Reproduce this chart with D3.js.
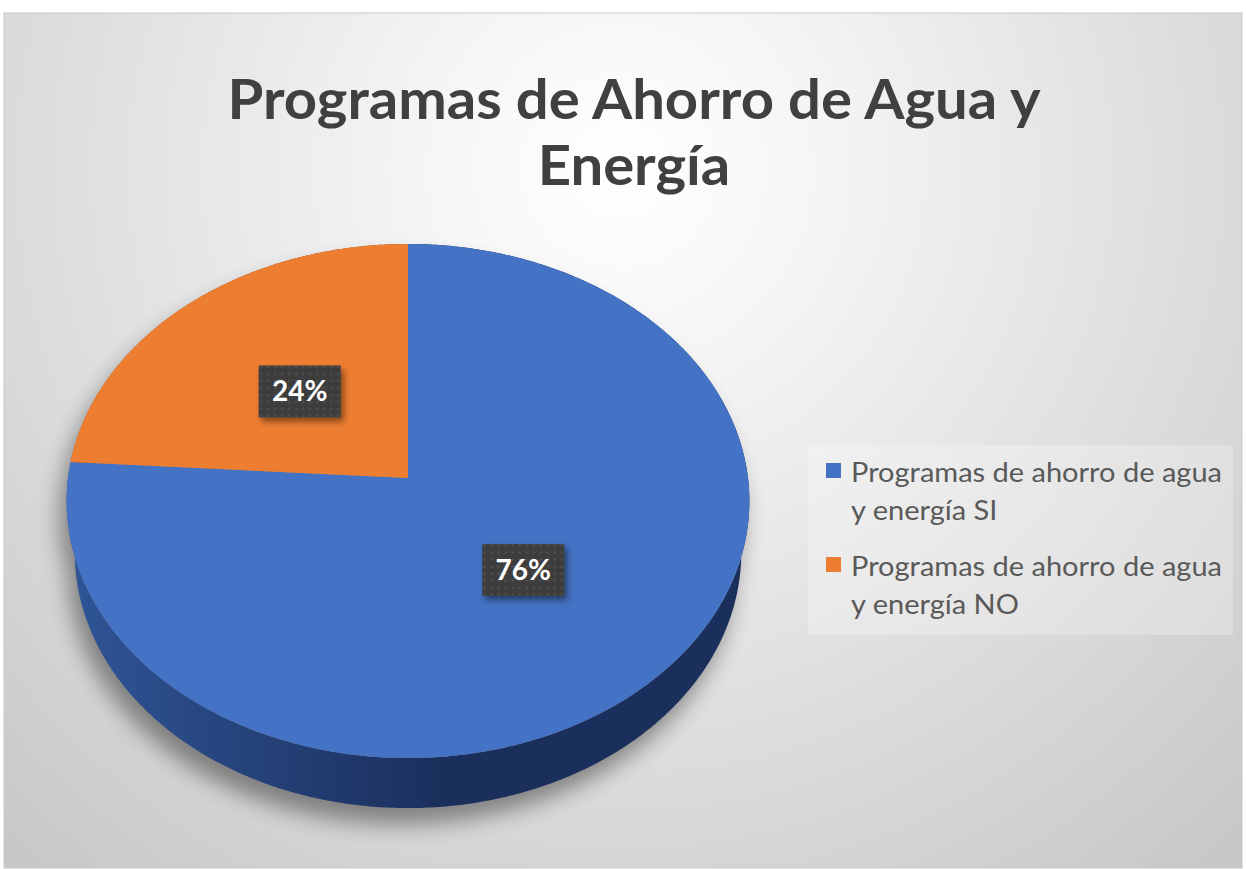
<!DOCTYPE html>
<html>
<head>
<meta charset="utf-8">
<script src="https://cdn.jsdelivr.net/npm/d3@7"></script>
<style>
  body { margin: 0; background: #fff; }
  text { font-family: Lato, "Noto Sans", sans-serif; }
</style>
</head>
<body>
<script>
const titleLines = ["Programas de Ahorro de Agua y", "Energía"];
const categories = ["Programas de ahorro de agua y energía SI", "Programas de ahorro de agua y energía NO"];
const legendLines = [["Programas de ahorro de agua", "y energía SI"], ["Programas de ahorro de agua", "y energía NO"]];
const values = [76, 24];
const colors = ["#4472c4", "#ed7d31"];
const sideColors = [["#2f5597", "#1b2f5c"], ["#b45d1e", "#8a4514"]];

const W = 1246, H = 869;

const svg = d3.select("body").append("svg")
    .attr("width", W)
    .attr("height", H);

const defs = svg.append("defs");

// background
const bg = defs.append("radialGradient")
    .attr("id", "bg")
    .attr("gradientUnits", "userSpaceOnUse")
    .attr("cx", 620).attr("cy", 170).attr("r", 1000);
bg.append("stop").attr("offset", 0).attr("stop-color", "#ffffff");
bg.append("stop").attr("offset", 0.2).attr("stop-color", "#f5f5f5");
bg.append("stop").attr("offset", 1).attr("stop-color", "#c2c2c2");

svg.append("rect")
    .attr("x", 4).attr("y", 13)
    .attr("width", 1238).attr("height", 855)
    .attr("fill", "url(#bg)")
    .attr("stroke", "#c8c8c8");

// title
const title = svg.append("g").attr("fill", "#404040").attr("font-weight", "bold");
const titleText = title.selectAll("text")
    .data(titleLines)
    .join("text")
    .attr("x", 634)
    .attr("y", (d, i) => 119 + i * 66)
    .attr("text-anchor", "middle")
    .attr("font-size", 56)
    .text(d => d);
const tScale = 813 / titleText.nodes()[0].getComputedTextLength();
titleText.each(function () {
    d3.select(this)
      .attr("textLength", this.getComputedTextLength() * tScale)
      .attr("lengthAdjust", "spacingAndGlyphs");
});

// 3d pie projection
const cx = 408, cy = 478;
const f = 2511, R = 0.1354, depthH = 0.0322;
const sinP = 0.75, cosP = Math.sqrt(1 - sinP * sinP);

function project(a, r, y) {
    const X = R * r * Math.sin(a), Z = -R * r * Math.cos(a);
    const dz = 1 - Z * cosP - y * sinP;
    return [cx + f * X / dz, cy + f * (Z * sinP - y * cosP) / dz];
}

function arcPts(a0, a1, y) {
    const n = Math.max(2, Math.ceil(Math.abs(a1 - a0) / 0.01));
    return d3.range(n + 1).map(i => project(a0 + (a1 - a0) * i / n, 1, y));
}

const line = d3.line();
const pie = d3.pie().sort(null).value(d => d);
const arcs = pie(values);

// shadow
const shadowF = defs.append("filter").attr("id", "blur")
    .attr("x", -0.2).attr("y", -0.2).attr("width", 1.4).attr("height", 1.4);
shadowF.append("feGaussianBlur").attr("stdDeviation", 11);

const shadow = svg.append("g")
    .attr("filter", "url(#blur)")
    .attr("transform", "translate(-7,16)")
    .attr("fill", "#000")
    .attr("opacity", 0.4);
shadow.append("path").attr("d", line(arcPts(0, 2 * Math.PI, -depthH)) + "Z");
shadow.append("path").attr("d", line(arcPts(0, 2 * Math.PI, 0)) + "Z");

// sides
const x0 = project(-Math.PI / 2, 1, 0)[0], x1 = project(Math.PI / 2, 1, 0)[0];
sideColors.forEach((c, i) => {
    const g = defs.append("linearGradient")
        .attr("id", "side" + i)
        .attr("gradientUnits", "userSpaceOnUse")
        .attr("x1", x0).attr("x2", x1).attr("y1", 0).attr("y2", 0);
    g.append("stop").attr("offset", 0).attr("stop-color", c[0]);
    g.append("stop").attr("offset", 0.55).attr("stop-color", c[1]);
    g.append("stop").attr("offset", 1).attr("stop-color", c[1]);
});

svg.append("g").selectAll("path")
    .data(arcs)
    .join("path")
    .attr("fill", (d, i) => `url(#side${i})`)
    .attr("d", d => line(arcPts(d.startAngle, d.endAngle, 0)
        .concat(arcPts(d.endAngle, d.startAngle, -depthH))) + "Z");

// top faces
svg.append("g").selectAll("path")
    .data(arcs)
    .join("path")
    .attr("fill", (d, i) => colors[i])
    .attr("d", d => line([[cx, cy]].concat(arcPts(d.startAngle, d.endAngle, 0))) + "Z");

// data labels
const dots = defs.append("pattern")
    .attr("id", "dots")
    .attr("patternUnits", "userSpaceOnUse")
    .attr("width", 7).attr("height", 7);
dots.append("rect").attr("width", 7).attr("height", 7).attr("fill", "#3d3d3d");
dots.append("circle").attr("cx", 3.5).attr("cy", 3.5).attr("r", 0.9).attr("fill", "#5e5e5e");

const lblShadow = defs.append("filter").attr("id", "lblShadow")
    .attr("x", -0.3).attr("y", -0.3).attr("width", 1.6).attr("height", 1.6);
lblShadow.append("feDropShadow")
    .attr("dx", 3).attr("dy", 4).attr("stdDeviation", 3)
    .attr("flood-color", "#000").attr("flood-opacity", 0.45);

const total = d3.sum(values);
const lbl = svg.append("g").selectAll("g")
    .data(arcs)
    .join("g")
    .attr("transform", d => {
        const p = project((d.startAngle + d.endAngle) / 2, 0.48, 0);
        return `translate(${p[0]},${p[1]})`;
    });
lbl.append("rect")
    .attr("x", -41).attr("y", -26)
    .attr("width", 82).attr("height", 52)
    .attr("fill", "url(#dots)")
    .attr("filter", "url(#lblShadow)");
lbl.append("text")
    .attr("text-anchor", "middle")
    .attr("dy", 10)
    .attr("fill", "#fff")
    .attr("font-weight", "bold")
    .attr("font-size", 28)
    .text(d => Math.round(d.value / total * 100) + "%");

// legend
const legend = svg.append("g");
legend.append("rect")
    .attr("x", 808).attr("y", 445)
    .attr("width", 425).attr("height", 190)
    .attr("fill", "#fff")
    .attr("opacity", 0.25);

const items = legend.selectAll("g.item")
    .data(categories)
    .join("g")
    .attr("class", "item")
    .attr("transform", (d, i) => `translate(0,${i * 94})`);
items.append("rect")
    .attr("x", 826).attr("y", 463)
    .attr("width", 15).attr("height", 15)
    .attr("fill", (d, i) => colors[i]);
const legText = items.selectAll("text")
    .data((d, i) => legendLines[i])
    .join("text")
    .attr("x", 851)
    .attr("y", (d, j) => 482 + j * 38)
    .attr("fill", "#595959")
    .attr("font-size", 26)
    .text(d => d);
const lScale = 371 / legText.nodes()[0].getComputedTextLength();
legText.each(function () {
    d3.select(this)
      .attr("textLength", this.getComputedTextLength() * lScale)
      .attr("lengthAdjust", "spacingAndGlyphs");
});
</script>
</body>
</html>
